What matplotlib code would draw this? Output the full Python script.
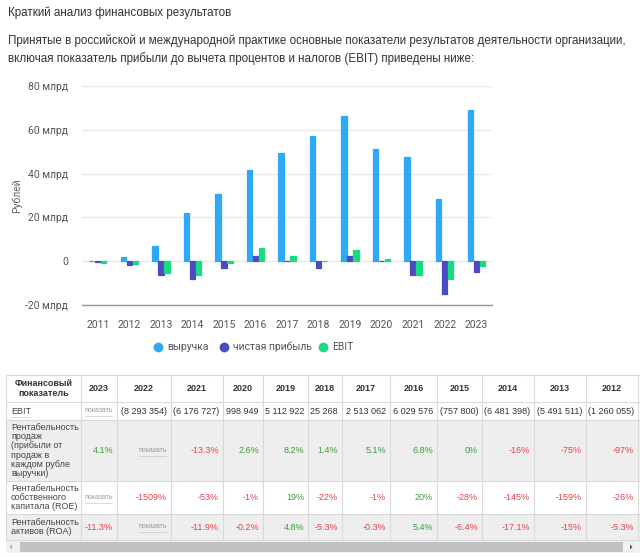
import matplotlib
matplotlib.use("Agg")
import matplotlib.pyplot as plt
import numpy as np
from matplotlib.patches import Rectangle, Polygon

# ---------------- data ----------------
years = ['2011', '2012', '2013', '2014', '2015', '2016', '2017',
         '2018', '2019', '2020', '2021', '2022', '2023']
revenue = [0.0, 1.7, 7.0, 22.1, 30.6, 41.5, 49.5, 57.3, 66.3, 51.4, 47.7, 28.5, 69.0]
net_profit = [-0.4, -1.8, -6.3, -7.9, -2.9, 2.6, 0.15, -2.9, 2.3, 0.1, -6.1, -14.8, -4.9]
ebit = [-0.6, -1.26, -5.49, -6.48, -0.76, 6.03, 2.51, 0.03, 5.11, 1.0, -6.18, -8.29, -2.1]
series_names = ['выручка', 'чистая прибыль', 'EBIT']
series_colors = ['#2fa8f6', '#4b4cc2', '#17dc80']
y_ticks = [-20, 0, 20, 40, 60, 80]

title = 'Краткий анализ финансовых результатов'
para = ['Принятые в российской и международной практике основные показатели результатов деятельности организации,',
        'включая показатель прибыли до вычета процентов и налогов (EBIT) приведены ниже:']

table_header = ['Финансовый\nпоказатель', '2023', '2022', '2021', '2020', '2019', '2018',
                '2017', '2016', '2015', '2014', '2013', '2012']
row_labels = ['EBIT',
              'Рентабельность\nпродаж\n(прибыли от\nпродаж в\nкаждом рубле\nвыручки)',
              'Рентабельность\nсобственного\nкапитала (ROE)',
              'Рентабельность\nактивов (ROA)']
ebit_row = ['показать', '(8 293 354)', '(6 176 727)', '998 949', '5 112 922', '25 268',
            '2 513 062', '6 029 576', '(757 800)', '(6 481 398)', '(5 491 511)', '(1 260 055)']
sales_row = ['4.1%', 'показать', '-13.3%', '2.6%', '8.2%', '1.4%', '5.1%', '6.8%',
             '0%', '-16%', '-75%', '-97%']
roe_row = ['показать', '-1509%', '-53%', '-1%', '19%', '-22%', '-1%', '20%',
           '-28%', '-145%', '-159%', '-26%']
roa_row = ['-11.3%', 'показать', '-11.9%', '-0.2%', '4.8%', '-5.3%', '-0.3%', '5.4%',
           '-6.4%', '-17.1%', '-15%', '-5.3%']
table_rows = [ebit_row, sales_row, roe_row, roa_row]

# ---------------- layout ----------------
W, H = 640, 557
fig = plt.figure(figsize=(W / 100, H / 100), dpi=100)
fig.patch.set_facecolor('white')

page = fig.add_axes([0, 0, 1, 1])
page.set_xlim(0, W)
page.set_ylim(H, 0)
page.axis('off')

TXT = '#333333'
FONT = 'Liberation Sans'
HFS = 8.4

page.text(8, 13, title, fontsize=HFS, color=TXT, family=FONT, va='center', ha='left')
page.text(8, 41, para[0], fontsize=HFS, color=TXT, family=FONT, va='center', ha='left')
page.text(8, 59, para[1], fontsize=HFS, color=TXT, family=FONT, va='center', ha='left')

# ---------------- chart ----------------
ax_l, ax_r, ax_t, ax_b = 82, 492, 86, 305
ax = fig.add_axes([ax_l / W, (H - ax_b) / H, (ax_r - ax_l) / W, (ax_b - ax_t) / H])
ax.set_facecolor('none')
x = np.arange(len(years))
bw = 0.17
off = 0.19
for i, (vals, col) in enumerate(zip([revenue, net_profit, ebit], series_colors)):
    ax.bar(x + (i - 1) * off, vals, bw, color=col, edgecolor=col, linewidth=0.9,
           joinstyle='round', zorder=3)
ax.set_xlim(-0.5, len(years) - 0.5)
ax.set_ylim(-20, 80)
ax.set_yticks(y_ticks)
ax.set_yticklabels([('0' if v == 0 else f'{v} млрд') for v in y_ticks])
ax.set_xticks(x)
ax.set_xticklabels(years)
ax.tick_params(axis='both', length=0, labelsize=7.5, labelcolor='#555555')
ax.tick_params(axis='y', pad=10)
ax.tick_params(axis='x', pad=11)
for lab in ax.get_xticklabels() + ax.get_yticklabels():
    lab.set_family('Roboto')
ax.yaxis.grid(True, color='#e9e9e9', linewidth=1, zorder=0)
for s in ['left', 'right', 'top']:
    ax.spines[s].set_visible(False)
ax.spines['bottom'].set_color('#9a9a9a')
ax.spines['bottom'].set_linewidth(1)
ax.set_ylabel('Рублей', fontsize=7.5, color='#666666', family='Roboto')
ax.yaxis.set_label_coords((22 - ax_l) / (ax_r - ax_l), 0.5)

# legend
leg_y = 347
leg_circle_x = [158, 224, 323]
for cx, name, col in zip(leg_circle_x, series_names, series_colors):
    page.scatter([cx], [leg_y], s=50, color=col, zorder=5, linewidths=0)
    page.text(cx + 9, leg_y, name, fontsize=7.5, color='#555555', family='Roboto',
              va='center', ha='left')

# ---------------- table ----------------
col_edges = [6, 81, 117, 171, 223, 263, 308, 342, 390, 437, 482, 534, 586, 638]
row_edges = [375, 402, 420, 481, 514, 540]
row_bg = ['white', 'white', '#eeeeee', 'white', '#eeeeee']
GRID = '#d9d9d9'
GREEN = '#3a9d3a'
RED = '#e8404c'
GRAYTXT = '#9a9a9a'
TFS = 6.5

for r in range(len(row_edges) - 1):
    page.add_patch(Rectangle((col_edges[0], row_edges[r]), W - col_edges[0],
                             row_edges[r + 1] - row_edges[r], facecolor=row_bg[r],
                             edgecolor='none', zorder=1))
for yv in row_edges:
    page.plot([col_edges[0], W], [yv, yv], color=GRID, lw=0.8, zorder=2)
for xv in col_edges:
    page.plot([xv, xv], [row_edges[0], row_edges[-1]], color=GRID, lw=0.8, zorder=2)

fig.canvas.draw()
renderer = fig.canvas.get_renderer()
inv = page.transData.inverted()


def underline(t, y):
    bb = t.get_window_extent(renderer=renderer)
    (x0, _), (x1, _) = inv.transform([[bb.x0, bb.y0], [bb.x1, bb.y1]])
    page.plot([x0, x1], [y, y], color='#aaaaaa', lw=0.6, ls=(0, (1.2, 1.2)), zorder=4)


# header
hy = (row_edges[0] + row_edges[1]) / 2
for c, h in enumerate(table_header):
    cx = (col_edges[c] + col_edges[c + 1]) / 2
    page.text(cx, hy, h, fontsize=TFS, fontweight='bold', color=TXT, family=FONT,
              ha='center', va='center', linespacing=1.05, zorder=5)

# row labels
for r, lab in enumerate(row_labels):
    ry = (row_edges[r + 1] + row_edges[r + 2]) / 2
    t = page.text(col_edges[0] + 5, ry, lab, fontsize=TFS, color='#444444', family=FONT,
                  ha='left', va='center', linespacing=1.02, zorder=5)
    if lab == 'EBIT':
        underline(t, ry + 5.5)

# cells
for r, row in enumerate(table_rows):
    ry = (row_edges[r + 1] + row_edges[r + 2]) / 2
    for c, val in enumerate(row):
        xr = col_edges[c + 2] - 4
        if val == 'показать':
            t = page.text(xr, ry, val, fontsize=5, color=GRAYTXT, family=FONT,
                          ha='right', va='center', zorder=5)
            fig.canvas.draw()
            underline(t, ry + 5)
            continue
        if r == 0:
            colr = TXT
        else:
            colr = RED if val.startswith('-') else GREEN
        page.text(xr, ry, val, fontsize=TFS, color=colr, family=FONT,
                  ha='right', va='center', zorder=5)

# scrollbar
page.add_patch(Rectangle((col_edges[0], 541), W - col_edges[0], 12, facecolor='#f1f1f1',
                         edgecolor='none', zorder=1))
page.add_patch(Rectangle((20, 542), 603, 10, facecolor='#c1c1c1', edgecolor='none', zorder=2))
page.add_patch(Polygon([[12, 544.5], [12, 549.5], [9.5, 547]], closed=True,
                       facecolor='#b0b0b0', edgecolor='none', zorder=3))
page.add_patch(Polygon([[630, 544.5], [630, 549.5], [632.5, 547]], closed=True,
                       facecolor='#505050', edgecolor='none', zorder=3))

fig.savefig('out.png', dpi=100, facecolor='white')
